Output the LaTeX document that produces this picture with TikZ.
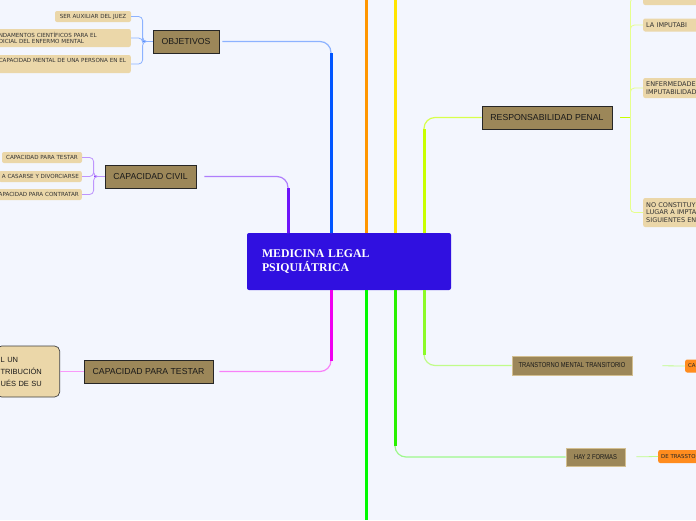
\documentclass[tikz,border=0pt]{standalone}
\usepackage{fontspec}
\newfontfamily\topicfont{Liberation Sans}
\newfontfamily\subfont{DejaVu Sans}
\newfontfamily\rootfont{Liberation Serif}
\newfontfamily\narrowfont[FakeStretch=0.82]{Liberation Sans}

\definecolor{bgcol}{RGB}{243,246,254}
\definecolor{rootblue}{RGB}{48,16,224}
\definecolor{topicbrown}{RGB}{156,135,89}
\definecolor{subbeige}{RGB}{235,215,169}
\definecolor{notorange}{RGB}{255,140,30}
\definecolor{lnpurple}{RGB}{110,20,250}
\definecolor{lnblue}{RGB}{0,85,255}
\definecolor{lnorange}{RGB}{255,150,0}
\definecolor{lnyellow}{RGB}{255,228,0}
\definecolor{lnlime}{RGB}{200,255,0}
\definecolor{lnmagenta}{RGB}{240,0,240}
\definecolor{lngreen}{RGB}{0,250,0}
\definecolor{lngreenb}{RGB}{40,240,0}
\definecolor{lnlight}{RGB}{140,250,40}

\tikzset{
    rootbox/.style={fill=rootblue, rounded corners=2pt, text=white, minimum height=57pt,
                    text width=174pt, inner xsep=15pt, align=left,
                    font=\rootfont\bfseries\fontsize{11.8}{14}\selectfont},
    topic/.style={draw=black!85, line width=0.8pt, fill=topicbrown, minimum height=23pt,
                  inner sep=0pt, text=black!90, font=\topicfont\fontsize{8.7}{10}\selectfont},
    slimtopic/.style={draw=subbeige!70!topicbrown, line width=0.6pt, fill=topicbrown,
                      inner sep=0pt, text=black!90, font=\narrowfont\fontsize{7.1}{8}\selectfont},
    idea/.style={fill=subbeige, rounded corners=2pt, inner xsep=3pt, inner ysep=2pt,
                 align=left, text=black!80, font=\subfont\fontsize{5.6}{6.6}\selectfont},
    pidea/.style={idea, anchor=west, text width=60pt, font=\subfont\fontsize{6.5}{7.6}\selectfont},
    bigidea/.style={draw=black!75, line width=0.7pt, fill=subbeige, rounded corners=5pt,
                    inner xsep=4pt, align=left, text=black!90,
                    font=\topicfont\fontsize{7.5}{12}\selectfont},
    note/.style={fill=notorange, rounded corners=2pt, inner xsep=3pt, inner ysep=2pt,
                 anchor=west, text=black!85, font=\subfont\fontsize{5.4}{6}\selectfont},
    trunk/.style={line width=3pt, shorten >=11pt},
    twig/.style={line width=1.2pt, rounded corners=11pt},
    sublink/.style={line width=0.8pt, rounded corners=4pt},
}

\begin{document}
\begin{tikzpicture}[x=1pt, y=-1pt]

    \useasboundingbox (0,0) rectangle (696,520);
    \clip (0,0) rectangle (696,520);
    \fill[bgcol] (0,0) rectangle (696,520);

    % ── Central topic ──────────────────────────────────────────────
    \node[rootbox] (root) at (349,261.5) {MEDICINA LEGAL\\PSIQUIÁTRICA};

    % ── Main topics ────────────────────────────────────────────────
    \node[topic, minimum width=66pt]  (objetivos) at (186,41.5)   {OBJETIVOS};
    \node[topic, minimum width=91pt]  (civil)     at (150.5,176.5) {CAPACIDAD CIVIL};
    \node[topic, minimum width=129pt] (testar)    at (148.5,371.5) {CAPACIDAD PARA TESTAR};
    \node[topic, minimum width=130pt] (penal)     at (547,117.5)  {RESPONSABILIDAD PENAL};
    \node[slimtopic, minimum width=120pt, minimum height=19pt] (transitorio) at (572,365.5) {TRANSTORNO MENTAL TRANSITORIO};
    \node[slimtopic, minimum width=59pt, minimum height=18pt]  (formas)      at (595.5,457) {HAY 2 FORMAS};

    % ── Subtopics ──────────────────────────────────────────────────
    \node[idea, minimum width=76pt, minimum height=11pt] (juez) at (93,16.5) {SER AUXILIAR DEL JUEZ};
    \node[idea, anchor=east, text width=129pt, minimum height=18pt] (fundamentos) at (131,38) {NDAMENTOS CIENTÍFICOS PARA EL\\DICIAL DEL ENFERMO MENTAL};
    \node[idea, anchor=east, text width=129pt, minimum height=18pt] (mental) at (131,64) {CAPACIDAD MENTAL DE UNA PERSONA EN EL\\\mbox{}};

    \node[idea, minimum width=80pt, minimum height=11pt] (ctestar) at (42,157.5) {CAPACIDAD PARA TESTAR};
    \node[idea, anchor=east, minimum height=11pt] (casarse)   at (82,176.5) {A CASARSE Y DIVORCIARSE};
    \node[idea, anchor=east, minimum height=11pt] (contratar) at (82,194.5) {APACIDAD PARA CONTRATAR};

    \node[bigidea, anchor=east, text width=55pt, minimum height=51pt] (distribucion) at (60,371.5) {L UN\\TRIBUCIÓN\\UÉS DE SU};

    \node[pidea, minimum height=14pt] (penaltop)     at (643,-2)    {\mbox{}};
    \node[pidea, minimum height=13pt] (imputable)    at (643,25)    {LA IMPUTABI};
    \node[pidea, minimum height=20pt] (enfermedades) at (643,88)    {ENFERMEDADE\\IMPUTABILIDAD};
    \node[pidea, minimum height=29pt] (noconst)      at (643,212.5) {NO CONSTITUY\\LUGAR A IMPTA\\SIGUIENTES EN};

    \node[note, minimum height=13pt, text width=20pt] (tmtnote)  at (685,366)   {CA};
    \node[note, minimum height=13pt, text width=45pt] (hay2note) at (658,456.5) {DE TRASSTO};

    % ── Branch feet on the central topic ───────────────────────────
    \coordinate (civfoot) at (288,233);
    \coordinate (objfoot) at (331,233);
    \coordinate (orfoot)  at (366,233);
    \coordinate (ortop)   at (366,0);
    \coordinate (yefoot)  at (395,233);
    \coordinate (yetop)   at (395,0);
    \coordinate (penfoot) at (424,233);
    \coordinate (tesfoot) at (331,290);
    \coordinate (grfoot)  at (366,290);
    \coordinate (grend)   at (366,520);
    \coordinate (forfoot) at (395,290);
    \coordinate (trafoot) at (424,290);

    % ── Branches ───────────────────────────────────────────────────
    \draw[twig, lnpurple!55, shorten >=8pt] (civfoot) |- (civil.east);
    \draw[trunk, lnpurple] (civfoot) -- (civfoot |- civil.east);

    \draw[twig, lnblue!45, shorten >=3pt] (objfoot) |- (objetivos.east);
    \draw[trunk, lnblue] (objfoot) -- (objfoot |- objetivos.east);

    \draw[line width=3pt, lnorange] (orfoot) -- (ortop);
    \draw[line width=3pt, lnyellow] (yefoot) -- (yetop);

    \draw[twig, lnlime!70] (penfoot) |- (penal.west);
    \draw[trunk, lnlime] (penfoot) -- (penfoot |- penal.west);

    \draw[twig, lnmagenta!50, shorten >=6pt] (tesfoot) |- (testar.east);
    \draw[trunk, lnmagenta] (tesfoot) -- (tesfoot |- testar.east);

    \draw[line width=3pt, lngreen] (grfoot) -- (grend);

    \draw[twig, lngreenb!45] (forfoot) |- (formas.west);
    \draw[trunk, lngreenb] (forfoot) -- (forfoot |- formas.west);

    \draw[twig, lnlight!55] (trafoot) |- (transitorio.west);
    \draw[trunk, lnlight] (trafoot) -- (trafoot |- transitorio.west);

    % ── Sub links ──────────────────────────────────────────────────
    \draw[line width=1.6pt, lnblue!70] (objetivos.west) -- ++(-10,0);
    \draw[sublink, lnblue!45] (objetivos.west) -- ++(-10,0) |- (juez.east);
    \draw[sublink, lnblue!45] (objetivos.west) -- ++(-10,0) |- (fundamentos.east);
    \draw[sublink, lnblue!45] (objetivos.west) -- ++(-10,0) |- (mental.east);

    \draw[line width=1.6pt, lnpurple!80] (civil.west) -- ++(-11,0);
    \draw[sublink, lnpurple!45] (civil.west) -- ++(-11,0) |- (ctestar.east);
    \draw[sublink, lnpurple!45] (civil.west) -- ++(-11,0) |- (casarse.east);
    \draw[sublink, lnpurple!45] (civil.west) -- ++(-11,0) |- (contratar.east);

    \draw[sublink, lnmagenta!40] (testar.west) -- (distribucion.east);

    \draw[line width=1.6pt, lnlime, shorten <=8pt] (penal.east) -- ++(18,0);
    \draw[sublink, lnlime!45] ([xshift=18pt]penal.east) |- (penaltop.west);
    \draw[sublink, lnlime!45] ([xshift=18pt]penal.east) |- (imputable.west);
    \draw[sublink, lnlime!45] ([xshift=18pt]penal.east) |- (enfermedades.west);
    \draw[sublink, lnlime!45] ([xshift=18pt]penal.east) |- (noconst.west);

    \draw[sublink, lnlight!55, shorten <=30pt] (transitorio.east) -- (tmtnote.west);
    \draw[sublink, lnlight!55, shorten <=11pt] (formas.east) -- (hay2note.west);

\end{tikzpicture}
\end{document}
